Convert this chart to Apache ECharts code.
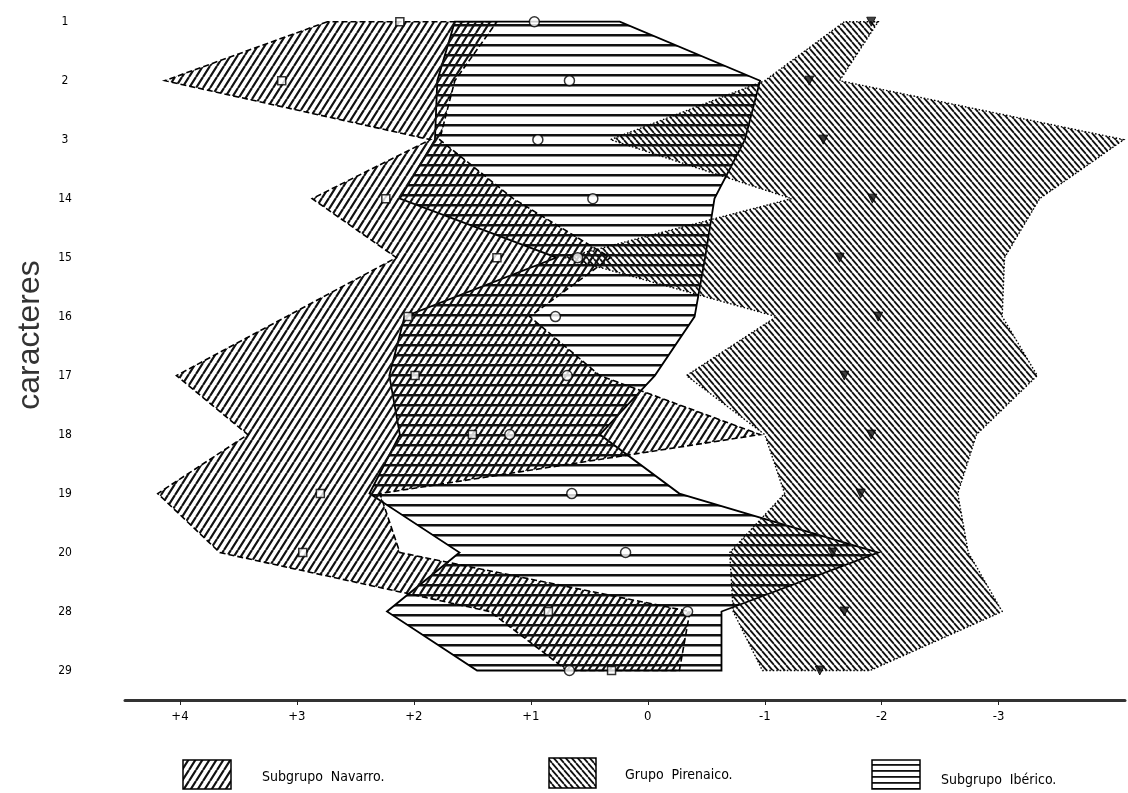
<!DOCTYPE html>
<html>
<head>
<meta charset="utf-8">
<script src="https://cdn.jsdelivr.net/npm/echarts@6/dist/echarts.min.js"></script>
<style>
  html, body { margin: 0; padding: 0; background: #fff; }
  #main { width: 1128px; height: 793px; }
</style>
</head>
<body>
<div id="main"></div>
<script>
// rows (caracteres), top to bottom
const rowLabels = ['1', '2', '3', '14', '15', '16', '17', '18', '19', '20', '28', '29']
const xTicks = [4, 3, 2, 1, 0, -1, -2, -3]

// limits of each group per row
const navarroLeft = [2.74, 4.13, 1.86, 2.87, 2.15, 3.09, 4.03, 3.42, 4.19, 3.66, 1.35, 0.69]
const navarroRight = [1.29, 1.65, 1.78, 1.15, 0.32, 1.01, 0.41, -0.96, 2.29, 2.12, -0.36, -0.27]
const ibericoLeft = [1.65, 1.80, 1.82, 2.12, 0.78, 2.08, 2.21, 2.12, 2.38, 1.61, 2.23, 1.46]
const ibericoRight = [0.24, -0.96, -0.83, -0.57, -0.49, -0.40, -0.06, 0.41, -0.27, -1.97, -0.63, -0.63]
const pirenaicoLeft = [-1.68, -1.00, 0.32, -1.23, 0.71, -1.10, -0.33, -1.00, -1.17, -0.70, -0.73, -0.98]
const pirenaicoRight = [-1.97, -1.64, -4.07, -3.35, -3.05, -3.03, -3.33, -2.81, -2.65, -2.74, -3.03, -1.90]

// group means per row
const navarroMean = [2.12, 3.13, null, 2.24, 1.29, 2.05, 1.99, 1.50, 2.80, 2.95, 0.85, 0.31]
const ibericoMean = [0.97, 0.67, 0.94, 0.47, 0.60, 0.79, 0.69, 1.18, 0.65, 0.19, -0.34, 0.67]
const pirenaicoMean = [-1.91, -1.38, -1.50, -1.92, -1.64, -1.97, -1.68, -1.91, -1.82, -1.58, -1.68, -1.47]

const FONT = "'Liberation Sans Narrow', 'DejaVu Sans Condensed', 'Liberation Sans', sans-serif"

// hatch tiles
function hatch(kind, step) {
  const c = document.createElement('canvas')
  let w = 7, h = 11
  if (kind === 'back') { w = 6; h = 7 }
  if (kind === 'horiz') { w = 8; h = step || 10 }
  c.width = w
  c.height = h
  const g = c.getContext('2d')
  g.fillStyle = '#111'
  g.strokeStyle = '#111'
  if (kind === 'horiz') {
    g.fillRect(0, Math.floor(h / 2) - 1, w, h > 7 ? 2.5 : 1.8)
    return { image: c, repeat: 'repeat' }
  }
  g.lineWidth = kind === 'back' ? 1.8 : 2.2
  g.beginPath()
  for (const k of [-1, 0, 1]) {
    if (kind === 'fwd') {
      g.moveTo(k * w, h)
      g.lineTo(k * w + w, 0)
    } else {
      g.moveTo(k * w, 0)
      g.lineTo(k * w + w, h)
    }
  }
  g.stroke()
  return { image: c, repeat: 'repeat' }
}

const patNavarro = hatch('fwd')
const patPirenaico = hatch('back')
const patIberico = hatch('horiz')
const patIbericoKey = hatch('horiz', 6)

function band(left, right, fill, dash, lw) {
  return {
    type: 'custom',
    silent: true,
    data: [[0, 0]],
    renderItem: function (params, api) {
      const pts = []
      for (let i = 0; i < left.length; i++) pts.push(api.coord([left[i], i]))
      for (let i = right.length - 1; i >= 0; i--) pts.push(api.coord([right[i], i]))
      return {
        type: 'polygon',
        shape: { points: pts },
        style: { fill: fill, stroke: '#000', lineWidth: lw, lineDash: dash }
      }
    }
  }
}

function means(arr) {
  const out = []
  arr.forEach((v, i) => { if (v != null) out.push([v, i]) })
  return out
}

const chart = echarts.init(document.getElementById('main'))

chart.setOption({
  animation: false,
  backgroundColor: '#fff',
  grid: { left: 125, right: 3, top: 4, bottom: 93 },
  xAxis: {
    type: 'value',
    inverse: true,
    position: 'bottom',
    min: -4.08,
    max: 4.47,
    splitLine: { show: false },
    axisLine: { onZero: false, lineStyle: { color: '#333', width: 3 } },
    axisTick: { customValues: xTicks, length: 5, lineStyle: { color: '#222', width: 1 } },
    axisLabel: {
      customValues: xTicks,
      formatter: v => (v > 0 ? '+' + v : String(v)),
      margin: 10,
      fontSize: 13,
      fontFamily: FONT,
      color: '#000'
    }
  },
  yAxis: {
    type: 'value',
    inverse: true,
    min: -0.3,
    max: 11.5,
    splitLine: { show: false },
    axisLine: { show: false, onZero: false },
    axisTick: { show: false },
    axisLabel: {
      customValues: rowLabels.map((_, i) => i),
      formatter: v => rowLabels[Math.round(v)],
      align: 'center',
      margin: 60,
      fontSize: 12,
      fontFamily: FONT,
      color: '#000'
    }
  },
  graphic: [
    {
      type: 'text', x: 30, y: 335, rotation: Math.PI / 2,
      style: { text: 'caracteres', font: "32px 'Liberation Sans', sans-serif", fill: '#333', textAlign: 'center', textVerticalAlign: 'middle' }
    },
    { type: 'rect', shape: { x: 183, y: 760, width: 48, height: 29 }, style: { fill: patNavarro, stroke: '#000', lineWidth: 1.5 } },
    { type: 'text', x: 262, y: 777, style: { text: 'Subgrupo  Navarro.', font: '14px ' + FONT, fill: '#000', textVerticalAlign: 'middle' } },
    { type: 'rect', shape: { x: 549, y: 758, width: 47, height: 30 }, style: { fill: patPirenaico, stroke: '#000', lineWidth: 1.5 } },
    { type: 'text', x: 625, y: 775, style: { text: 'Grupo  Pirenaico.', font: '14px ' + FONT, fill: '#000', textVerticalAlign: 'middle' } },
    { type: 'rect', shape: { x: 872, y: 760, width: 48, height: 29 }, style: { fill: patIbericoKey, stroke: '#000', lineWidth: 1.5 } },
    { type: 'text', x: 941, y: 780, style: { text: 'Subgrupo  Ibérico.', font: '14px ' + FONT, fill: '#000', textVerticalAlign: 'middle' } }
  ],
  series: [
    band(ibericoLeft, ibericoRight, patIberico, null, 1.8),
    band(navarroLeft, navarroRight, patNavarro, [6, 3], 1.6),
    band(pirenaicoLeft, pirenaicoRight, patPirenaico, [1.5, 2], 1.4),
    {
      type: 'scatter', name: 'Subgrupo Navarro', z: 5,
      symbol: 'rect', symbolSize: 8,
      itemStyle: { color: '#fff', borderColor: '#000', borderWidth: 1.5 },
      data: means(navarroMean)
    },
    {
      type: 'scatter', name: 'Subgrupo Ibérico', z: 5,
      symbol: 'circle', symbolSize: 10,
      itemStyle: { color: '#fff', borderColor: '#000', borderWidth: 1.5 },
      data: means(ibericoMean)
    },
    {
      type: 'scatter', name: 'Grupo Pirenaico', z: 5,
      symbol: 'triangle', symbolRotate: 180, symbolSize: 9,
      itemStyle: { color: '#111', borderColor: '#000', borderWidth: 1 },
      data: means(pirenaicoMean)
    }
  ]
})
</script>
</body>
</html>
